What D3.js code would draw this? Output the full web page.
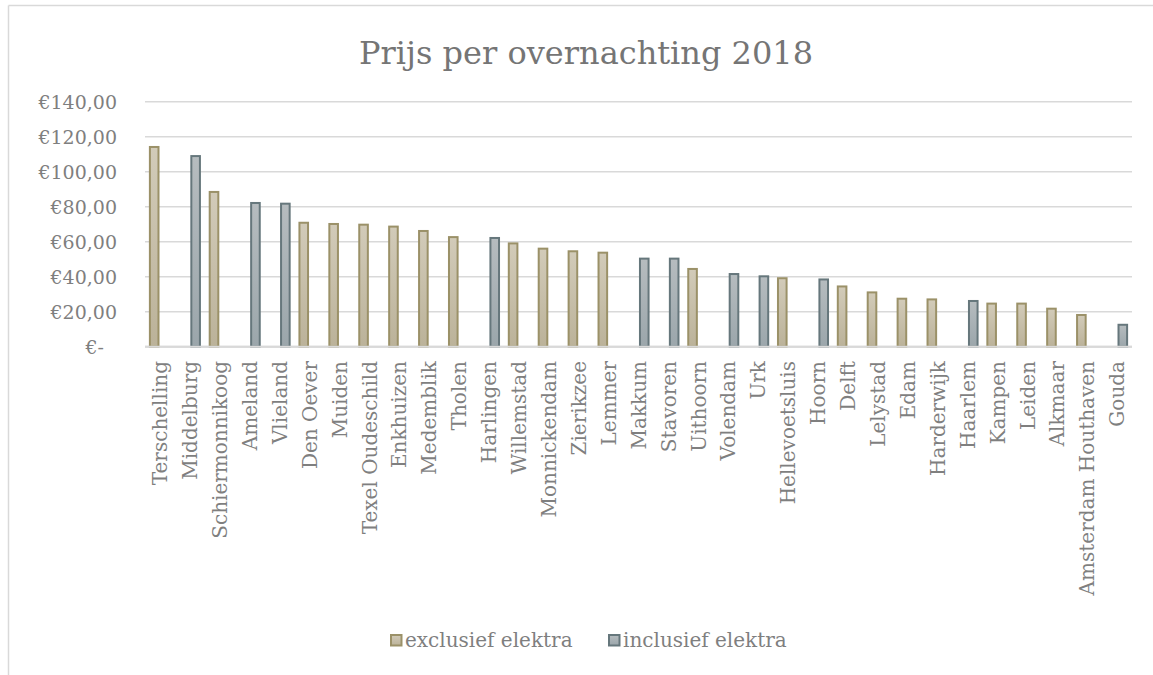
<!DOCTYPE html>
<html>
<head>
<meta charset="utf-8">
<script src="https://cdn.jsdelivr.net/npm/d3@7"></script>
<style>
  body { margin: 0; background: #fff; }
  text { font-family: "DejaVu Serif", serif; }
</style>
</head>
<body>
<script>
// data
const categories = ["Terschelling", "Middelburg", "Schiermonnikoog", "Ameland", "Vlieland", "Den Oever", "Muiden",
  "Texel Oudeschild", "Enkhuizen", "Medemblik", "Tholen", "Harlingen", "Willemstad", "Monnickendam", "Zierikzee",
  "Lemmer", "Makkum", "Stavoren", "Uithoorn", "Volendam", "Urk", "Hellevoetsluis", "Hoorn", "Delft", "Lelystad",
  "Edam", "Harderwijk", "Haarlem", "Kampen", "Leiden", "Alkmaar", "Amsterdam Houthaven", "Gouda"];

const exclusief = [114.7, null, 89, null, null, 71.4, 70.7, 70.3, 69.2, 66.7, 63.2, null, 59.6, 56.6, 55.1,
  54.3, null, null, 45, null, null, 39.7, null, 35, 31.6, 28, 27.6, null, 25.2, 25.2, 22.3, 18.7, null];
const inclusief = [null, 109.5, null, 82.7, 82.3, null, null, null, null, null, null, 62.7, null, null, null,
  null, 50.9, 50.9, null, 42.1, 40.8, null, 39, null, null, null, null, 26.7, null, null, null, null, 13.1];

const seriesNames = ["exclusief elektra", "inclusief elektra"];
const yTicks = [0, 20, 40, 60, 80, 100, 120, 140];
const yTickLabels = ["€-", "€20,00", "€40,00", "€60,00", "€80,00", "€100,00", "€120,00", "€140,00"];
const title = "Prijs per overnachting 2018";

const width = 1153, height = 675;
const colors = {
  exclusief: { top: "#d2cbb9", bottom: "#bbb299", stroke: "#9b9168" },
  inclusief: { top: "#b6bcbf", bottom: "#9ba6ab", stroke: "#66777c" }
};

const svg = d3.select("body").append("svg")
  .attr("width", width)
  .attr("height", height);

// gradients
const defs = svg.append("defs");
Object.entries(colors).forEach(([k, c]) => {
  const g = defs.append("linearGradient").attr("id", "grad-" + k)
    .attr("x1", 0).attr("y1", 0).attr("x2", 0).attr("y2", 1);
  g.append("stop").attr("offset", "0%").attr("stop-color", c.top);
  g.append("stop").attr("offset", "100%").attr("stop-color", c.bottom);
});

// chart frame (only top and left edges visible)
svg.append("line").attr("x1", 8.5).attr("x2", width).attr("y1", 5.5).attr("y2", 5.5)
  .attr("stroke", "#d9d9d9").attr("stroke-width", 1.5);
svg.append("line").attr("x1", 8.5).attr("x2", 8.5).attr("y1", 5.5).attr("y2", height)
  .attr("stroke", "#d9d9d9").attr("stroke-width", 1.5);

// title
svg.append("text")
  .attr("x", 586).attr("y", 64)
  .attr("text-anchor", "middle")
  .attr("fill", "#757575")
  .attr("font-size", 32)
  .text(title);

const x0 = d3.scaleBand()
  .domain(categories)
  .range([145, 1132])
  .paddingInner(0.26)
  .paddingOuter(0.13);

const x1 = d3.scaleBand()
  .domain(seriesNames)
  .range([0, x0.bandwidth()])
  .paddingInner(0.08);

const y = d3.scaleLinear()
  .domain([0, 140])
  .range([346.7, 101.7]);

// gridlines
svg.append("g")
  .selectAll("line")
  .data(yTicks)
  .join("line")
  .attr("x1", 145).attr("x2", 1132)
  .attr("y1", d => y(d)).attr("y2", d => y(d))
  .attr("stroke", "#d9d9d9")
  .attr("stroke-width", d => d === 0 ? 2 : 1.5);

// y labels
svg.append("g")
  .selectAll("text")
  .data(yTicks)
  .join("text")
  .attr("x", (d, i) => yTickLabels[i].endsWith("-") ? 104 : 117)
  .attr("y", d => y(d))
  .attr("dy", "0.36em")
  .attr("text-anchor", "end")
  .attr("font-size", 19)
  .attr("fill", "#7f7f7f")
  .text((d, i) => yTickLabels[i]);

// bars
const rows = [];
categories.forEach((c, i) => {
  if (exclusief[i] != null) rows.push({ cat: c, s: seriesNames[0], key: "exclusief", v: exclusief[i] });
  if (inclusief[i] != null) rows.push({ cat: c, s: seriesNames[1], key: "inclusief", v: inclusief[i] });
});

const sw = 2;
svg.append("g")
  .selectAll("rect")
  .data(rows)
  .join("rect")
  .attr("x", d => x0(d.cat) + x1(d.s) + sw / 2)
  .attr("width", x1.bandwidth() - sw)
  .attr("y", d => y(d.v) + sw / 2)
  .attr("height", d => y(0) - y(d.v) - sw / 2)
  .attr("fill", d => `url(#grad-${d.key})`)
  .attr("stroke", d => colors[d.key].stroke)
  .attr("stroke-width", sw);

// redraw baseline above bars
svg.append("line")
  .attr("x1", 145).attr("x2", 1132)
  .attr("y1", y(0)).attr("y2", y(0))
  .attr("stroke", "#d9d9d9").attr("stroke-width", 2);

// category labels, rotated
svg.append("g")
  .selectAll("text")
  .data(categories)
  .join("text")
  .attr("transform", d => `translate(${x0(d) + x0.bandwidth() / 2},361) rotate(-90)`)
  .attr("dy", "0.36em")
  .attr("text-anchor", "end")
  .attr("font-size", 20)
  .attr("fill", "#7f7f7f")
  .text(d => d);

// legend
const legend = svg.append("g");
const legendItems = [
  { name: seriesNames[0], key: "exclusief", x: 390 },
  { name: seriesNames[1], key: "inclusief", x: 608 }
];
legendItems.forEach(it => {
  legend.append("rect")
    .attr("x", it.x + 1).attr("y", 635)
    .attr("width", 10.5).attr("height", 10.5)
    .attr("fill", `url(#grad-${it.key})`)
    .attr("stroke", colors[it.key].stroke)
    .attr("stroke-width", sw);
  legend.append("text")
    .attr("x", it.x + 15).attr("y", 640)
    .attr("dy", "0.36em")
    .attr("font-size", 20)
    .attr("fill", "#7f7f7f")
    .text(it.name);
});
</script>
</body>
</html>
